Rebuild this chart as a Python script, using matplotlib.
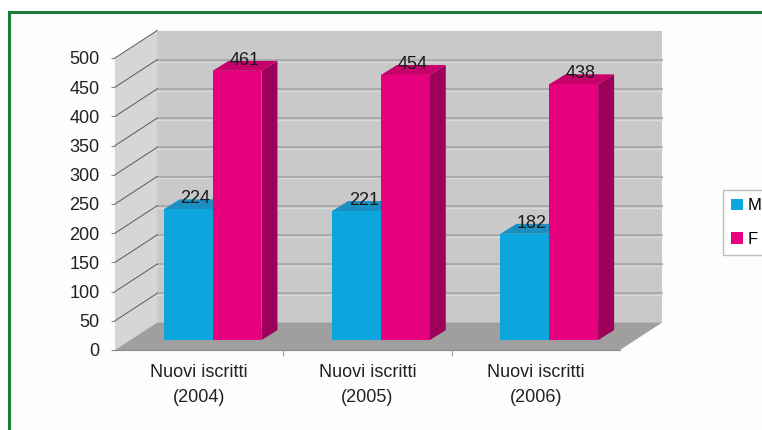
import numpy as np
import matplotlib
matplotlib.use('Agg')
import matplotlib.pyplot as plt
from matplotlib.patches import Polygon, Rectangle, Patch

plt.rcParams['font.family'] = ['Liberation Sans', 'DejaVu Sans']

categories = ['Nuovi iscritti\n(2004)', 'Nuovi iscritti\n(2005)', 'Nuovi iscritti\n(2006)']
series_names = ['M', 'F']
maschi = [224, 221, 182]
femmine = [461, 454, 438]
y_ticks = [0, 50, 100, 150, 200, 250, 300, 350, 400, 450, 500]

colors = {'front': ['#0ba6dd', '#e6007e'],
          'top':   ['#1b8fc2', '#c8006c'],
          'side':  ['#0a7aa8', '#9c0058']}

# depth of the 3d box (data units) and of the bars
DX, DY = 0.25, 47
fx, fy = 0.09, 17
bx, by = 0.095, 17
w = 0.29

fig = plt.figure(figsize=(7.62, 4.30), dpi=100)
fig.patch.set_facecolor('white')
# green frame (cropped on the right/bottom)
fig.patches.append(Rectangle((9/762, -0.1), 1.2, 1.1 - 12/430, transform=fig.transFigure,
                             facecolor='#fdfdfd', edgecolor='#1b7a3a', lw=2.2, zorder=-5))

ax = fig.add_axes([115/762, 80/430, 505/762, 292/430])
ax.set_xlim(0, 3)
ax.set_ylim(0, 500)
ax.patch.set_visible(False)
for s in ax.spines.values():
    s.set_visible(False)

# walls and floor
ymax = y_ticks[-1]
ax.add_patch(Polygon([(DX, DY), (3+DX, DY), (3+DX, ymax+DY), (DX, ymax+DY)],
                     facecolor='#c9c9c9', edgecolor='none', zorder=1, clip_on=False))
ax.add_patch(Polygon([(0, 0), (DX, DY), (DX, ymax+DY), (0, ymax)],
                     facecolor='#d6d6d6', edgecolor='none', zorder=1, clip_on=False))
ax.add_patch(Polygon([(0, 0), (3, 0), (3+DX, DY), (DX, DY)],
                     facecolor='#9f9f9f', edgecolor='none', zorder=2, clip_on=False))

for v in y_ticks[1:-1]:
    ax.plot([DX, 3+DX], [v+DY, v+DY], color='#a8a8a8', lw=1.3, zorder=1.5, clip_on=False)
    ax.plot([DX, 3+DX], [v+DY-3, v+DY-3], color='#dadada', lw=0.8, zorder=1.5, clip_on=False)
for v in y_ticks[1:]:
    ax.plot([0, DX], [v, v+DY], color='#5a5a5a', lw=0.7, zorder=1.5, clip_on=False)
ax.plot([0, 3], [0, 0], color='#8a8a8a', lw=0.8, zorder=2.5, clip_on=False)

# bars
z = 3
for i in range(len(categories)):
    for s, vals in enumerate([maschi, femmine]):
        v = vals[i]
        xl = i + 0.49 - w + s*w + fx
        xr = xl + w
        ax.add_patch(Polygon([(xr, fy), (xr+bx, fy+by), (xr+bx, fy+v+by), (xr, fy+v)],
                             facecolor=colors['side'][s], edgecolor='none', zorder=z, clip_on=False))
        ax.add_patch(Polygon([(xl, fy+v), (xl+bx, fy+v+by), (xr+bx, fy+v+by), (xr, fy+v)],
                             facecolor=colors['top'][s], edgecolor='none', zorder=z, clip_on=False))
        ax.bar(xl, v, width=w, bottom=fy, align='edge', color=colors['front'][s],
               zorder=z+0.5, clip_on=False)
        ax.text(xl + w/2 + 0.45*bx, fy + v + by + 1, str(v), ha='center', va='center',
                fontsize=13, color='#1a1a1a', zorder=10)
        z += 1

ax.set_yticks(y_ticks)
ax.set_yticklabels([str(t) for t in y_ticks], fontsize=13, color='#222222')
ax.tick_params(axis='y', length=3, color='#888888', pad=8)
ax.set_xticks([0.5, 1.5, 2.5])
ax.set_xticklabels(categories, fontsize=13, color='#222222', linespacing=1.6)
ax.tick_params(axis='x', length=0, pad=10)
ax.set_xticks([1, 2], minor=True)
ax.tick_params(axis='x', which='minor', length=4, color='#888888')

handles = [Patch(facecolor=colors['front'][0]), Patch(facecolor=colors['front'][1])]
fig.legend(handles, series_names, loc='upper left', bbox_to_anchor=(723/762, 1 - 190/430),
           fontsize=12, frameon=True, fancybox=False, edgecolor='#bbbbbb',
           handlelength=0.7, handleheight=0.7, handletextpad=0.25, labelspacing=1.1,
           borderpad=0.5, borderaxespad=0, framealpha=1)

fig.savefig('out.png', dpi=100)
